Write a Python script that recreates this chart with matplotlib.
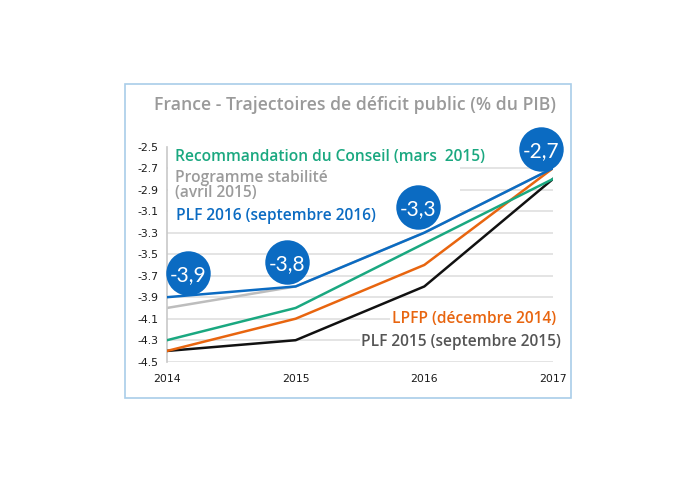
import matplotlib
matplotlib.use("Agg")
import matplotlib.pyplot as plt
from matplotlib.patches import Rectangle
from matplotlib.transforms import offset_copy

plt.rcParams['font.family'] = ['Open Sans', 'DejaVu Sans']

years = [2014, 2015, 2016, 2017]
prog_stab = [-4.0, -3.8, -3.3, -2.7]
plf2015 = [-4.4, -4.3, -3.8, -2.8]
lpfp = [-4.4, -4.1, -3.6, -2.7]
recommandation = [-4.3, -4.0, -3.4, -2.8]
plf2016 = [-3.9, -3.8, -3.3, -2.7]
yticks = [-2.5, -2.7, -2.9, -3.1, -3.3, -3.5, -3.7, -3.9, -4.1, -4.3, -4.5]
bubble_labels = ["-3,9", "-3,8", "-3,3", "-2,7"]

BLUE = "#0b6bc2"
GREEN = "#1aa880"
ORANGE = "#e8650f"
BLACK = "#111111"
GREYLINE = "#bdbdbd"

fig = plt.figure(figsize=(6.95, 4.83), dpi=100)
fig.patches.append(Rectangle((125/695, 85/483), (571-125)/695, (399-85)/483,
                             transform=fig.transFigure, fill=False,
                             edgecolor="#a9cde9", linewidth=1.2))
ax = fig.add_axes([167/695, 121.3/483, 386/695, 215/483])
ax.set_xlim(2014, 2017)
ax.set_ylim(-4.5, -2.5)
for s in ['top', 'right', 'bottom']:
    ax.spines[s].set_visible(False)
ax.spines['left'].set_color("#c8c8c8")
ax.spines['left'].set_linewidth(1.2)
ax.set_yticks(yticks)
ax.set_yticklabels([f"{v:.1f}" for v in yticks], fontsize=7.8, color="#1a1a1a",
                   family=['DejaVu Sans'])
ax.set_xticks(years)
ax.set_xticklabels([str(y) for y in years], fontsize=7.8, color="#1a1a1a",
                   family=['DejaVu Sans'])
ax.tick_params(length=0)
ax.tick_params(axis='x', pad=9)
ax.tick_params(axis='y', pad=6.5)
ax.yaxis.grid(True, color="#e2e2e2", linewidth=1.3)
ax.set_axisbelow(True)
for gl, v in zip(ax.get_ygridlines(), yticks):
    if v == -2.5:
        gl.set_visible(False)

# white mask behind upper legend text
ax.add_patch(Rectangle((2014.01, -3.2), 2016.28 - 2014.01, 0.75,
                       facecolor="white", edgecolor="none", zorder=1.5))

lw = 1.8
ax.plot(years, prog_stab, color=GREYLINE, lw=lw, zorder=2)
ax.plot(years, plf2015, color=BLACK, lw=lw, zorder=3)
ax.plot(years, lpfp, color=ORANGE, lw=lw, zorder=4)
ax.plot(years, recommandation, color=GREEN, lw=lw, zorder=5)
ax.plot(years, plf2016, color=BLUE, lw=lw, zorder=6)

# bubbles
offsets = [(21, 24), (-9, 24), (-6, 26), (-12, 19)]
for x, y, lab, (dx, dy) in zip(years, plf2016, bubble_labels, offsets):
    tr = offset_copy(ax.transData, fig=fig, x=dx, y=dy, units='dots')
    ax.plot([x], [y], 'o', ms=32, color=BLUE, mec='none', transform=tr,
            zorder=7, clip_on=False)
    ax.text(x, y, lab, transform=tr, ha='center', va='center_baseline',
            color='white', fontsize=15, zorder=8, clip_on=False,
            family=['Lato', 'DejaVu Sans'])

# legend texts
fs = 11.2
fig.text(175/695, 1 - 157/483, "Recommandation du Conseil (mars  2015)",
         color=GREEN, fontsize=fs, fontweight='semibold', va='center', ha='left')
fig.text(175/695, 1 - 185.5/483, "Programme stabilité\n(avril 2015)",
         color="#9b9b9b", fontsize=fs, fontweight='semibold', va='center',
         ha='left', linespacing=0.9)
fig.text(176/695, 1 - 216/483, "PLF 2016 (septembre 2016)",
         color=BLUE, fontsize=fs, fontweight='semibold', va='center', ha='left')
fig.text(556/695, 1 - 319/483, "LPFP (décembre 2014)",
         color=ORANGE, fontsize=fs, fontweight='semibold', va='center', ha='right',
         bbox=dict(facecolor='white', edgecolor='none', pad=1))
fig.text(561/695, 1 - 342/483, "PLF 2015 (septembre 2015)",
         color="#555555", fontsize=fs, fontweight='semibold', va='center', ha='right',
         bbox=dict(facecolor='white', edgecolor='none', pad=1))

fig.text(355/695, 1 - 105/483, "France - Trajectoires de déficit public (% du PIB)",
         color="#9a9a9a", fontsize=12.7, fontweight='semibold', ha='center', va='center')

fig.savefig("out.png", dpi=100, facecolor='white')
